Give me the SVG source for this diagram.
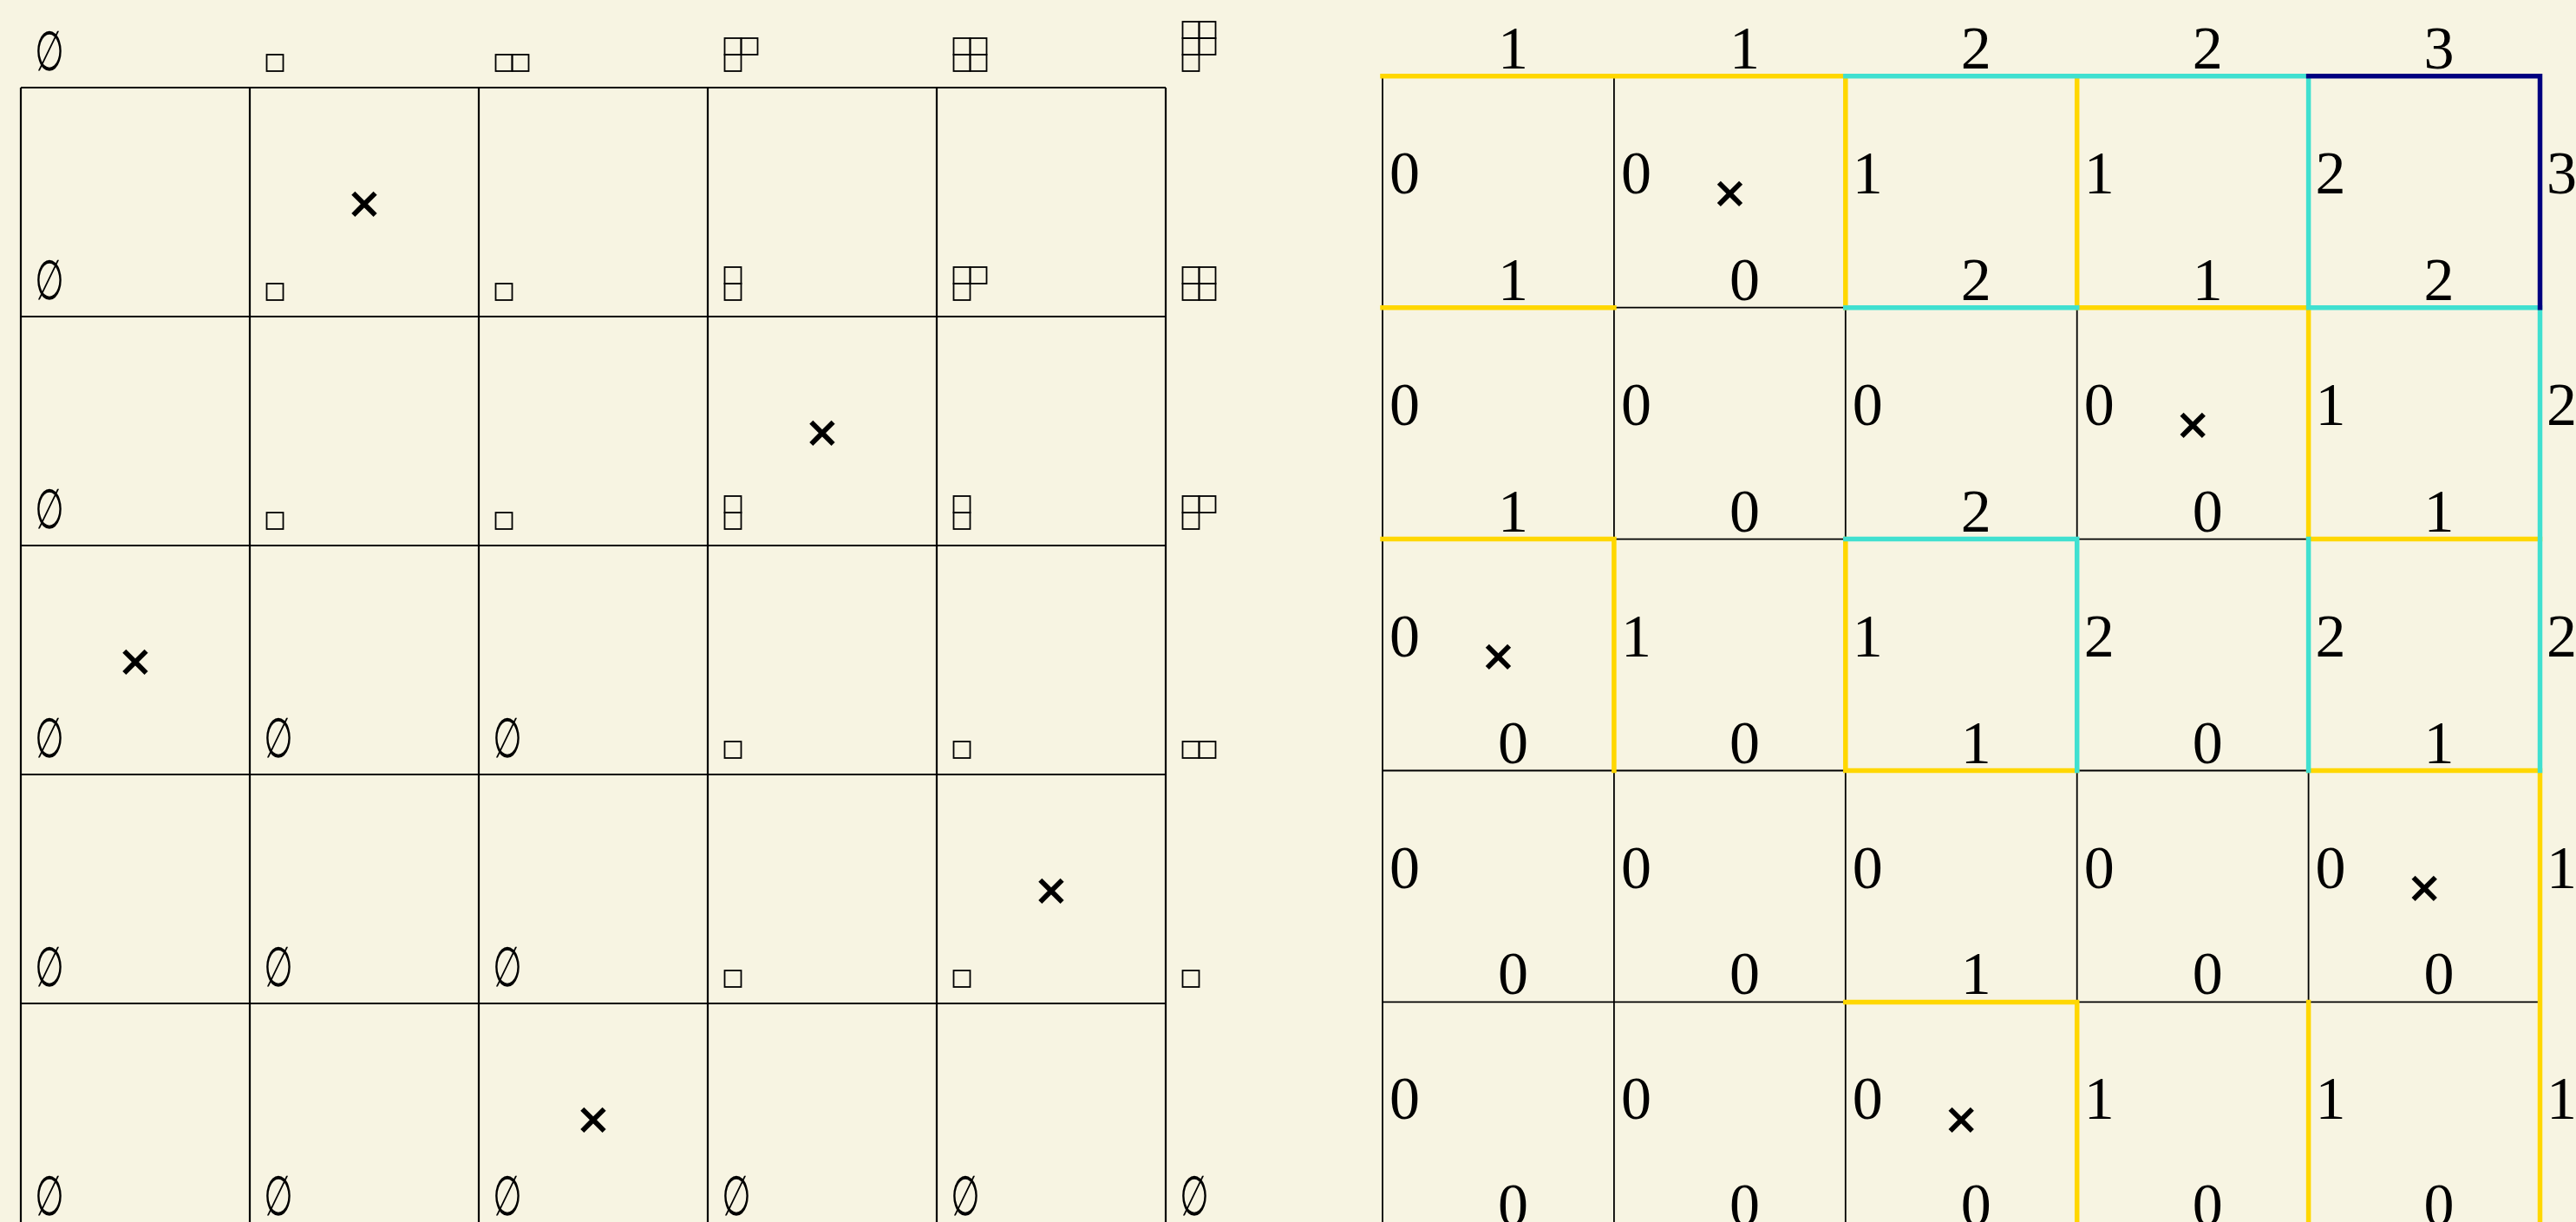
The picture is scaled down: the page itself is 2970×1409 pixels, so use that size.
<svg xmlns="http://www.w3.org/2000/svg" width="2970" height="1409" viewBox="0 0 2970 1409">
<style>
.bg{fill:#F7F4E2}
.lg{stroke:#000;stroke-width:2.2;fill:none}
.thin{stroke:#000;stroke-width:1.8;fill:none}
.c1{stroke:#FFD700;stroke-width:5.5;fill:none;stroke-linecap:square}
.c2{stroke:#40E0D0;stroke-width:5.5;fill:none;stroke-linecap:square}
.c3{stroke:#000080;stroke-width:5.5;fill:none;stroke-linecap:square}
.yd rect{fill:none;stroke:#000;stroke-width:1.8}
.num{font-family:"Liberation Serif","Times New Roman",serif;font-size:70px;fill:#000}
.mid{text-anchor:middle}
.es{font-family:"DejaVu Sans",sans-serif;font-size:64px;text-anchor:middle;fill:#000}
.x{font-family:"DejaVu Sans",sans-serif;font-weight:bold;font-size:50px;text-anchor:middle;fill:#000}
</style>
<defs>
<g id="sh1" class="yd"><rect x="0" y="-19" width="19" height="19"/></g>
<g id="sh2" class="yd"><rect x="0" y="-19" width="19" height="19"/><rect x="19" y="-19" width="19" height="19"/></g>
<g id="sh11" class="yd"><rect x="0" y="-38" width="19" height="19"/><rect x="0" y="-19" width="19" height="19"/></g>
<g id="sh21" class="yd"><rect x="0" y="-38" width="19" height="19"/><rect x="19" y="-38" width="19" height="19"/><rect x="0" y="-19" width="19" height="19"/></g>
<g id="sh22" class="yd"><rect x="0" y="-38" width="19" height="19"/><rect x="19" y="-38" width="19" height="19"/><rect x="0" y="-19" width="19" height="19"/><rect x="19" y="-19" width="19" height="19"/></g>
<g id="sh221" class="yd"><rect x="0" y="-57" width="19" height="19"/><rect x="19" y="-57" width="19" height="19"/><rect x="0" y="-38" width="19" height="19"/><rect x="19" y="-38" width="19" height="19"/><rect x="0" y="-19" width="19" height="19"/></g>
</defs>
<rect class="bg" x="0" y="0" width="2970" height="1409"/>

<g id="left-grid">
<path class="lg" d="M24 101V1421M288 101V1421M552 101V1421M816 101V1421M1080 101V1421M1344 101V1421M24 101H1344M24 365H1344M24 629H1344M24 893H1344M24 1157H1344M24 1421H1344"/>
</g>

<g id="left-crosses">
<text class="x" x="420" y="251">×</text>
<text class="x" x="948" y="515">×</text>
<text class="x" x="156" y="779">×</text>
<text class="x" x="1212" y="1043">×</text>
<text class="x" x="684" y="1307">×</text>
</g>

<g id="left-labels">
<text class="es" transform="translate(57 80.5) scale(0.6 1)">∅</text>
<use href="#sh1" x="307.5" y="82"/>
<use href="#sh2" x="571.5" y="82"/>
<use href="#sh21" x="835.5" y="82"/>
<use href="#sh22" x="1099.5" y="82"/>
<use href="#sh221" x="1363.5" y="82"/>

<text class="es" transform="translate(57 344.5) scale(0.6 1)">∅</text>
<use href="#sh1" x="307.5" y="346"/>
<use href="#sh1" x="571.5" y="346"/>
<use href="#sh11" x="835.5" y="346"/>
<use href="#sh21" x="1099.5" y="346"/>
<use href="#sh22" x="1363.5" y="346"/>

<text class="es" transform="translate(57 608.5) scale(0.6 1)">∅</text>
<use href="#sh1" x="307.5" y="610"/>
<use href="#sh1" x="571.5" y="610"/>
<use href="#sh11" x="835.5" y="610"/>
<use href="#sh11" x="1099.5" y="610"/>
<use href="#sh21" x="1363.5" y="610"/>

<text class="es" transform="translate(57 872.5) scale(0.6 1)">∅</text>
<text class="es" transform="translate(321 872.5) scale(0.6 1)">∅</text>
<text class="es" transform="translate(585 872.5) scale(0.6 1)">∅</text>
<use href="#sh1" x="835.5" y="874"/>
<use href="#sh1" x="1099.5" y="874"/>
<use href="#sh2" x="1363.5" y="874"/>

<text class="es" transform="translate(57 1136.5) scale(0.6 1)">∅</text>
<text class="es" transform="translate(321 1136.5) scale(0.6 1)">∅</text>
<text class="es" transform="translate(585 1136.5) scale(0.6 1)">∅</text>
<use href="#sh1" x="835.5" y="1138"/>
<use href="#sh1" x="1099.5" y="1138"/>
<use href="#sh1" x="1363.5" y="1138"/>

<text class="es" transform="translate(57 1400.5) scale(0.6 1)">∅</text>
<text class="es" transform="translate(321 1400.5) scale(0.6 1)">∅</text>
<text class="es" transform="translate(585 1400.5) scale(0.6 1)">∅</text>
<text class="es" transform="translate(849 1400.5) scale(0.6 1)">∅</text>
<text class="es" transform="translate(1113 1400.5) scale(0.6 1)">∅</text>
<text class="es" transform="translate(1377 1400.5) scale(0.6 1)">∅</text>
</g>

<g id="right-grid">
<path class="thin" d="M1594 87.8V1422.3M1860.9 87.8V1422.3M2127.8 87.8V1422.3M2394.7 87.8V1422.3M2661.6 87.8V1422.3M2928.5 87.8V1422.3M1594 87.8H2928.5M1594 354.7H2928.5M1594 621.6H2928.5M1594 888.5H2928.5M1594 1155.4H2928.5M1594 1422.3H2928.5"/>
<path class="c1" d="M1594 87.8H2127.8M1594 354.7H1860.9M2394.7 354.7H2661.6M1594 621.6H1860.9M2661.6 621.6H2928.5M2127.8 888.5H2394.7M2661.6 888.5H2928.5M2127.8 1155.4H2394.7M2127.8 87.8V354.7M2394.7 87.8V354.7M2661.6 354.7V621.6M1860.9 621.6V888.5M2127.8 621.6V888.5M2928.5 888.5V1422.3M2394.7 1155.4V1422.3M2661.6 1155.4V1422.3"/>
<path class="c2" d="M2127.8 87.8H2661.6M2127.8 354.7H2394.7M2661.6 354.7H2928.5M2127.8 621.6H2394.7M2661.6 87.8V354.7M2928.5 354.7V888.5M2394.7 621.6V888.5M2661.6 621.6V888.5"/>
<path class="c3" d="M2661.6 87.8H2928.5V354.7"/>
</g>

<g id="right-crosses">
<text class="x" x="1994.4" y="239.3">×</text>
<text class="x" x="2528.2" y="506.2">×</text>
<text class="x" x="1727.5" y="773.1">×</text>
<text class="x" x="2795.1" y="1040">×</text>
<text class="x" x="2261.3" y="1306.9">×</text>
</g>

<g id="right-top-labels" class="num mid">
<text x="1744.5" y="78.8">1</text>
<text x="2011.4" y="78.8">1</text>
<text x="2278.3" y="78.8">2</text>
<text x="2545.2" y="78.8">2</text>
<text x="2812.1" y="78.8">3</text>
</g>

<g id="right-bottom-labels" class="num mid">
<text x="1744.5" y="345.7">1</text><text x="2011.4" y="345.7">0</text><text x="2278.3" y="345.7">2</text><text x="2545.2" y="345.7">1</text><text x="2812.1" y="345.7">2</text>
<text x="1744.5" y="612.6">1</text><text x="2011.4" y="612.6">0</text><text x="2278.3" y="612.6">2</text><text x="2545.2" y="612.6">0</text><text x="2812.1" y="612.6">1</text>
<text x="1744.5" y="879.5">0</text><text x="2011.4" y="879.5">0</text><text x="2278.3" y="879.5">1</text><text x="2545.2" y="879.5">0</text><text x="2812.1" y="879.5">1</text>
<text x="1744.5" y="1146.4">0</text><text x="2011.4" y="1146.4">0</text><text x="2278.3" y="1146.4">1</text><text x="2545.2" y="1146.4">0</text><text x="2812.1" y="1146.4">0</text>
<text x="1744.5" y="1413.3">0</text><text x="2011.4" y="1413.3">0</text><text x="2278.3" y="1413.3">0</text><text x="2545.2" y="1413.3">0</text><text x="2812.1" y="1413.3">0</text>
</g>

<g id="right-side-labels" class="num">
<text x="1602" y="222.8">0</text><text x="1868.9" y="222.8">0</text><text x="2135.8" y="222.8">1</text><text x="2402.7" y="222.8">1</text><text x="2669.6" y="222.8">2</text><text x="2936" y="222.8">3</text>
<text x="1602" y="489.7">0</text><text x="1868.9" y="489.7">0</text><text x="2135.8" y="489.7">0</text><text x="2402.7" y="489.7">0</text><text x="2669.6" y="489.7">1</text><text x="2936" y="489.7">2</text>
<text x="1602" y="756.6">0</text><text x="1868.9" y="756.6">1</text><text x="2135.8" y="756.6">1</text><text x="2402.7" y="756.6">2</text><text x="2669.6" y="756.6">2</text><text x="2936" y="756.6">2</text>
<text x="1602" y="1023.5">0</text><text x="1868.9" y="1023.5">0</text><text x="2135.8" y="1023.5">0</text><text x="2402.7" y="1023.5">0</text><text x="2669.6" y="1023.5">0</text><text x="2936" y="1023.5">1</text>
<text x="1602" y="1290.4">0</text><text x="1868.9" y="1290.4">0</text><text x="2135.8" y="1290.4">0</text><text x="2402.7" y="1290.4">1</text><text x="2669.6" y="1290.4">1</text><text x="2936" y="1290.4">1</text>
</g>
</svg>
